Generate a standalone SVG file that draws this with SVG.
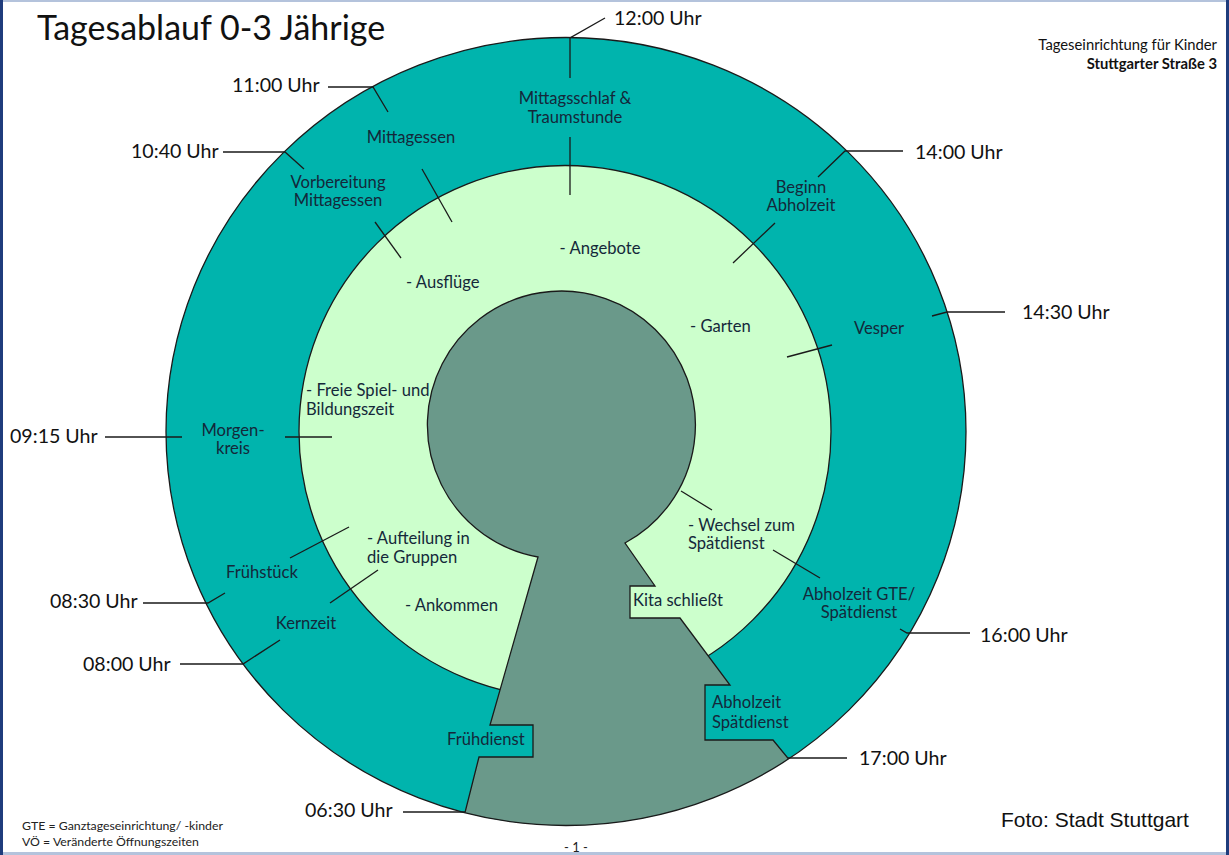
<svg xmlns="http://www.w3.org/2000/svg" width="1229" height="855" viewBox="0 0 1229 855">
<style>
.t{font-family:Lato,"Liberation Sans",sans-serif;font-size:19.6px;fill:#111}
.l{font-family:Lato,"Liberation Sans",sans-serif;font-size:16.6px;fill:#14283a}
.c{text-anchor:middle}
.ln{stroke:#1a1a1a;stroke-width:1.3;fill:none}
.edge{stroke:#1a1a1a;stroke-width:1.3}
.f{font-family:Lato,"Liberation Sans",sans-serif;font-size:12.3px;fill:#222}
</style>
<defs>
<clipPath id="outerClip"><ellipse cx="566" cy="431.5" rx="400" ry="394"/></clipPath>
</defs>
<rect x="0" y="0" width="1229" height="855" fill="#ffffff"/>
<rect x="0" y="0" width="1229" height="2" fill="#b4c3dc"/>
<rect x="0" y="852" width="1229" height="3" fill="#b4c3dc"/>
<rect x="0" y="0" width="3" height="855" fill="#1f3c7c"/>
<rect x="1226" y="0" width="3" height="855" fill="#1f3c7c"/>

<g id="outer-ring"><ellipse cx="566" cy="431.5" rx="400" ry="394" fill="#00b4ad"/></g>
<g id="inner-ring"><circle cx="565" cy="431.5" r="266" fill="#ccffcc" class="edge"/></g>
<g id="keyhole" clip-path="url(#outerClip)"><path d="M538,557 L490,725 L533,725 L533,757 L479,757 L448,880 L888,880 L773,740 L705,740 L705,685 L730,685 L680,618 L630,618 L630,586 L655,586 L625,543 A134,134 0 1 0 538,557 Z" fill="#6a998a" class="edge"/></g>
<g id="outer-edge"><ellipse cx="566" cy="431.5" rx="400" ry="394" fill="none" class="edge"/></g>

<g id="connectors">
<polyline class="ln" points="570,78 570,38 605,18"/>
<line class="ln" x1="570" y1="137" x2="570" y2="195"/>
<polyline class="ln" points="328,87 373,87 388,112"/>
<line class="ln" x1="422" y1="169" x2="452" y2="222"/>
<polyline class="ln" points="223,152 285,152 304,169"/>
<line class="ln" x1="375" y1="222" x2="401" y2="258"/>
<polyline class="ln" points="903,151 845,151 818,177"/>
<line class="ln" x1="775" y1="223" x2="733" y2="263"/>
<polyline class="ln" points="1005,312 947,312 932,316"/>
<line class="ln" x1="832" y1="345" x2="787" y2="357"/>
<polyline class="ln" points="970,633 907,633 900,629"/>
<line class="ln" x1="773" y1="550" x2="820" y2="578"/>
<line class="ln" x1="681" y1="491" x2="712" y2="510"/>
<line class="ln" x1="788" y1="758" x2="847" y2="758"/>
<line class="ln" x1="403" y1="812" x2="465" y2="812"/>
<polyline class="ln" points="180,664 243,664 280,640"/>
<line class="ln" x1="330" y1="603" x2="378" y2="570"/>
<polyline class="ln" points="143,603 208,603 225,593"/>
<line class="ln" x1="290" y1="558" x2="349" y2="527"/>
<line class="ln" x1="105" y1="437" x2="182" y2="437"/>
<line class="ln" x1="285" y1="437" x2="332" y2="437"/>
</g>

<g id="title"><text x="37" y="40" font-family="Lato,'Liberation Sans',sans-serif" font-size="34" fill="#111">Tagesablauf 0-3 Jährige</text></g>
<g id="header"><text x="1217" y="50" text-anchor="end" font-family="Lato,'Liberation Sans',sans-serif" font-size="14.8" fill="#111">Tageseinrichtung für Kinder</text>
<text x="1217" y="69" text-anchor="end" font-family="Lato,'Liberation Sans',sans-serif" font-size="14.8" font-weight="bold" fill="#111">Stuttgarter Straße 3</text></g>

<g id="t1200"><text class="t" x="614" y="25">12:00 Uhr</text></g>
<g id="t1100"><text class="t" x="232" y="92">11:00 Uhr</text></g>
<g id="t1040"><text class="t" x="131" y="158">10:40 Uhr</text></g>
<g id="t1400"><text class="t" x="915" y="159">14:00 Uhr</text></g>
<g id="t1430"><text class="t" x="1022" y="319">14:30 Uhr</text></g>
<g id="t0915"><text class="t" x="10" y="443">09:15 Uhr</text></g>
<g id="t0830"><text class="t" x="50" y="608">08:30 Uhr</text></g>
<g id="t0800"><text class="t" x="83" y="671">08:00 Uhr</text></g>
<g id="t1600"><text class="t" x="980" y="642">16:00 Uhr</text></g>
<g id="t1700"><text class="t" x="859" y="765">17:00 Uhr</text></g>
<g id="t0630"><text class="t" x="305" y="817">06:30 Uhr</text></g>

<g id="mittagsschlaf"><text class="l c" x="575" y="104">Mittagsschlaf &amp;</text><text class="l c" x="575" y="123">Traumstunde</text></g>
<g id="mittagessen"><text class="l c" x="411" y="143">Mittagessen</text></g>
<g id="vorbereitung"><text class="l c" x="338" y="188">Vorbereitung</text><text class="l c" x="338" y="206">Mittagessen</text></g>
<g id="beginn"><text class="l c" x="801" y="193">Beginn</text><text class="l c" x="801" y="211">Abholzeit</text></g>
<g id="vesper"><text class="l c" x="879" y="334">Vesper</text></g>
<g id="abholzeit-gte"><text class="l c" x="859" y="600">Abholzeit GTE/</text><text class="l c" x="859" y="618">Spätdienst</text></g>
<g id="morgenkreis"><text class="l c" x="233" y="436">Morgen-</text><text class="l c" x="233" y="454">kreis</text></g>
<g id="fruehstueck"><text class="l c" x="262" y="578">Frühstück</text></g>
<g id="kernzeit"><text class="l c" x="306" y="629">Kernzeit</text></g>
<g id="fruehdienst"><text class="l" x="447" y="745">Frühdienst</text></g>
<g id="abholzeit-spaet"><text class="l" x="712" y="708">Abholzeit</text><text class="l" x="712" y="728">Spätdienst</text></g>
<g id="kita"><text class="l" x="633" y="606">Kita schließt</text></g>
<g id="angebote"><text class="l c" x="600" y="254">- Angebote</text></g>
<g id="ausfluege"><text class="l" x="406" y="288">- Ausflüge</text></g>
<g id="garten"><text class="l" x="690" y="332">- Garten</text></g>
<g id="freie"><text class="l" x="306" y="396">- Freie Spiel- und</text><text class="l" x="306" y="415">Bildungszeit</text></g>
<g id="aufteilung"><text class="l" x="367" y="544">- Aufteilung in</text><text class="l" x="367" y="563">die Gruppen</text></g>
<g id="ankommen"><text class="l" x="405" y="611">- Ankommen</text></g>
<g id="wechsel"><text class="l" x="688" y="531">- Wechsel zum</text><text class="l" x="688" y="549">Spätdienst</text></g>

<g id="footer">
<text class="f" x="22" y="830">GTE = Ganztageseinrichtung/ -kinder</text>
<text class="f" x="22" y="846">VÖ = Veränderte Öffnungszeiten</text>
<text x="576" y="852" text-anchor="middle" font-family="Lato,'Liberation Sans',sans-serif" font-size="13" fill="#222">- 1 -</text>
<text x="1001" y="827" font-family="'Liberation Sans',Arial,sans-serif" font-size="21" fill="#111">Foto: Stadt Stuttgart</text>
</g>
</svg>
